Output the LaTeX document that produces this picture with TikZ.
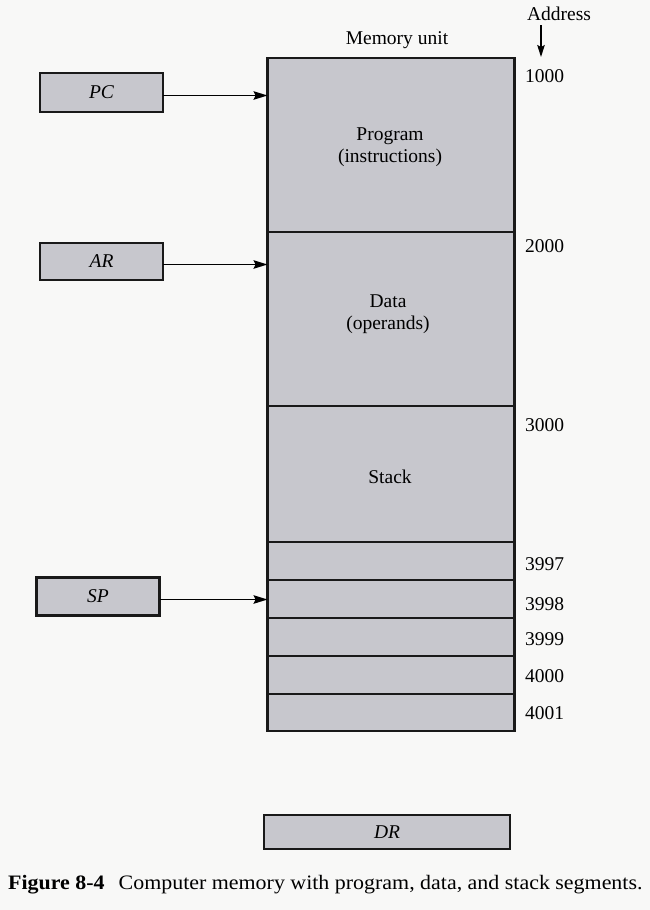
\documentclass[tikz,border=0pt]{standalone}
\usepackage{fontspec}
\setmainfont{Liberation Serif}
\usetikzlibrary{arrows.meta}
\definecolor{cellgray}{RGB}{199,199,205}
\definecolor{paper}{RGB}{248,248,247}
\begin{document}
\begin{tikzpicture}[x=1pt,y=-1pt,
  cell/.style={draw=black!90, line width=2.1pt, fill=cellgray, inner sep=0pt, outer sep=0pt},
  reg/.style={cell, minimum width=123pt, minimum height=38pt, font=\fontsize{19.5}{22}\selectfont\itshape},
  txt/.style={font=\fontsize{19.5}{22}\selectfont, inner sep=0pt, align=center},
  addr/.style={font=\fontsize{19.5}{22}\selectfont, inner sep=0pt, anchor=west},
  ptr/.style={line width=1.5pt, -{Stealth[length=14pt,width=8.5pt,inset=2pt]}}]
% page
\fill[paper] (0,0) rectangle (650,910);
\useasboundingbox (0,0) rectangle (650,910);

% memory segments
\node[cell, minimum width=247pt, minimum height=174pt] (prog)  at (391,145) {};
\node[cell, minimum width=247pt, minimum height=174pt] (data)  at (391,319) {};
\node[cell, minimum width=247pt, minimum height=136pt] (stack) at (391,474) {};
\node[cell, minimum width=247pt, minimum height=38pt]  (w3997) at (391,561) {};
\node[cell, minimum width=247pt, minimum height=38pt]  (w3998) at (391,599) {};
\node[cell, minimum width=247pt, minimum height=38pt]  (w3999) at (391,637) {};
\node[cell, minimum width=247pt, minimum height=38pt]  (w4000) at (391,675) {};
\node[cell, minimum width=247pt, minimum height=37pt]  (w4001) at (391,712.5) {};

% segment labels
\node[txt] (progtxt)  at (390,147) {Program\\(instructions)};
\node[txt] (datatxt)  at (388,314) {Data\\(operands)};
\node[txt] (stacktxt) at (390,477) {Stack};
\node[txt] (memtxt)   at (397,40) {Memory unit};

% addresses
\node[txt] (addrtxt) at (559,14) {Address};
\coordinate (addrtip) at (541,57);
\draw[line width=1.3pt, -{Stealth[length=12pt,width=7.5pt,inset=2pt]}] (addrtxt.south -| addrtip) ++(0,4) -- (addrtip);
\node[addr] (a1000) at (525,76)  {1000};
\node[addr] (a2000) at (525,246) {2000};
\node[addr] (a3000) at (525,425) {3000};
\node[addr] (a3997) at (525,564) {3997};
\node[addr] (a3998) at (525,604) {3998};
\node[addr] (a3999) at (525,639) {3999};
\node[addr] (a4000) at (525,676) {4000};
\node[addr] (a4001) at (525,713) {4001};

% registers
\node[reg, minimum height=39pt] (pc) at (101.5,92.5) {PC};
\node[reg, minimum height=37pt] (ar) at (101.5,261.5) {AR};
\node[reg] (sp) at (98,596.5) {SP};
\node[reg, minimum width=246pt, minimum height=34pt] (dr) at (387,832) {DR};

% pointers into memory
\draw[ptr] ([yshift=-3pt]pc.east) -- ([yshift=-3pt]pc.east -| prog.west);
\draw[ptr] ([yshift=-3pt]ar.east) -- ([yshift=-3pt]ar.east -| data.west);
\draw[ptr] ([yshift=-3pt]sp.east) -- ([yshift=-3pt]sp.east -| w3998.west);

% caption
\node[anchor=west, inner sep=0pt, font=\fontsize{20.5}{24}\selectfont\addfontfeature{FakeStretch=1.07}] (caption) at (8,885)
  {\textbf{Figure 8-4}\hspace{14pt}Computer memory with program, data, and stack segments.};
\end{tikzpicture}
\end{document}
